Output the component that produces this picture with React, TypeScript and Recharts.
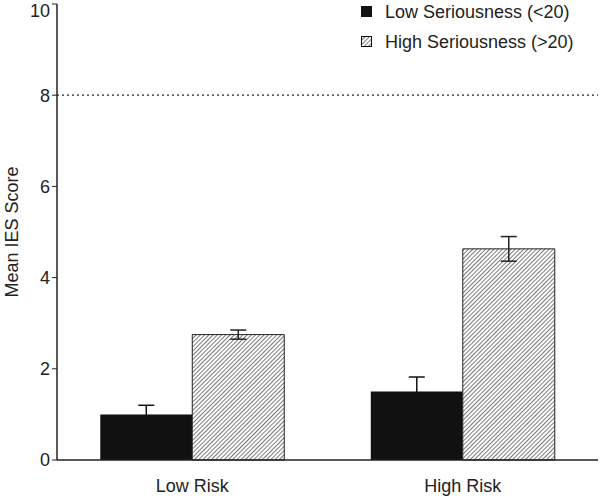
import { BarChart, Bar, XAxis, YAxis, ReferenceLine, ErrorBar } from 'recharts';

const categories = ['Low Risk', 'High Risk'];
const lowSeriousness = [1.0, 1.5];
const lowSeriousnessErr = [0.2, 0.32];
const highSeriousness = [2.75, 4.63];
const highSeriousnessErr = [0.1, 0.27];
const yTicks = [0, 2, 4, 6, 8, 10];
const threshold = 8;

const FONT = '"Liberation Sans", Arial, sans-serif';

const data = categories.map((name, i) => ({
  name,
  idx: i + 0.5,
  low: lowSeriousness[i],
  lowErr: lowSeriousnessErr[i],
  high: highSeriousness[i],
  highErr: highSeriousnessErr[i],
}));

function CategoryTick({ x, y, payload }: any) {
  return (
    <text x={x} y={y + 24} textAnchor="middle" fontFamily={FONT} fontSize={18} fill="#222">
      {payload.value}
    </text>
  );
}

function LegendBox() {
  const items = [
    { label: 'Low Seriousness (<20)', fill: '#111' },
    { label: 'High Seriousness (>20)', fill: 'url(#hatch)' },
  ];
  return (
    <div style={{ position: 'absolute', left: 361, top: -3, fontFamily: FONT, fontSize: 18, color: '#222' }}>
      {items.map((it) => (
        <div key={it.label} style={{ display: 'flex', alignItems: 'center', height: 30 }}>
          <svg width={12} height={12} style={{ marginRight: 12 }}>
            <rect x={0.5} y={0.5} width={10} height={10} fill={it.fill} stroke="#111" strokeWidth={1} />
          </svg>
          <span>{it.label}</span>
        </div>
      ))}
    </div>
  );
}

export default function App() {
  return (
    <div style={{ position: 'absolute', left: 0, top: 0, width: 600, height: 498, background: '#fff' }}>
      <svg width={0} height={0} style={{ position: 'absolute' }}>
        <defs>
          <pattern id="hatch" patternUnits="userSpaceOnUse" width={3} height={3} patternTransform="rotate(45)">
            <rect width={3} height={3} fill="#fff" />
            <line x1={0} y1={0} x2={0} y2={3} stroke="#333" strokeWidth={1.3} />
          </pattern>
        </defs>
      </svg>
      <BarChart
        width={600}
        height={498}
        data={data}
        margin={{ top: 4, right: 2, bottom: 0, left: 0 }}
        barGap={0}
        barCategoryGap="16%"
      >
        <defs>
          <pattern id="hatchBar" patternUnits="userSpaceOnUse" width={3} height={3} patternTransform="rotate(45)">
            <rect width={3} height={3} fill="#fff" />
            <line x1={0} y1={0} x2={0} y2={3} stroke="#333" strokeWidth={1.3} />
          </pattern>
        </defs>
        <XAxis
          xAxisId="bounds"
          type="number"
          dataKey="idx"
          domain={[0, 2]}
          ticks={[1, 2]}
          height={0}
          axisLine={false}
          tickLine={{ stroke: '#222' }}
          tickSize={5}
          tickFormatter={() => ''}
        />
        <XAxis
          dataKey="name"
          height={38}
          axisLine={{ stroke: '#222', strokeWidth: 1.5 }}
          tickLine={false}
          tick={<CategoryTick />}
        />
        <YAxis
          domain={[0, 10]}
          ticks={yTicks}
          width={57}
          axisLine={{ stroke: '#222', strokeWidth: 1.5 }}
          tickLine={{ stroke: '#222' }}
          tickSize={5}
          tick={{ fontFamily: FONT, fontSize: 18, fill: '#222' }}
          label={{
            value: 'Mean IES Score',
            angle: -90,
            position: 'insideLeft',
            offset: 12,
            style: { fontFamily: FONT, fontSize: 18, fill: '#222', textAnchor: 'middle' },
          }}
        />
        <ReferenceLine y={threshold} stroke="#222" strokeDasharray="2 3" strokeWidth={1.2} />
        <Bar dataKey="low" fill="#111" isAnimationActive={false}>
          <ErrorBar dataKey="lowErr" width={8} stroke="#111" strokeWidth={1.5} direction="y" />
        </Bar>
        <Bar dataKey="high" fill="url(#hatchBar)" stroke="#222" strokeWidth={1} isAnimationActive={false}>
          <ErrorBar dataKey="highErr" width={8} stroke="#222" strokeWidth={1.5} direction="y" />
        </Bar>
      </BarChart>
      <LegendBox />
    </div>
  );
}
